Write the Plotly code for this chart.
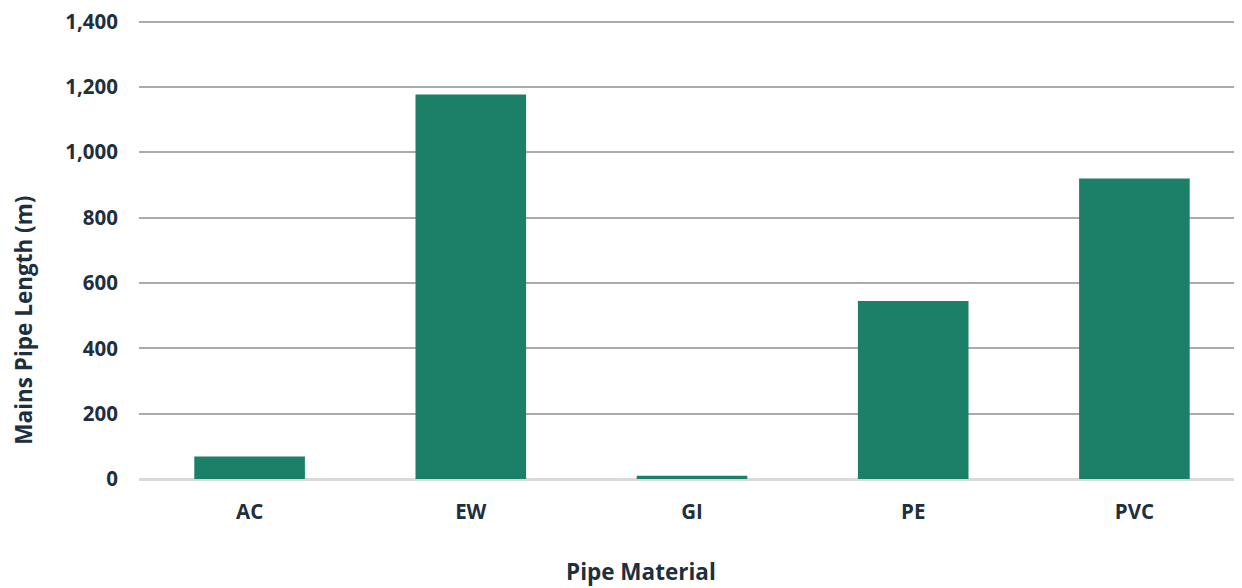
import plotly.graph_objects as go

categories = ["AC", "EW", "GI", "PE", "PVC"]
lengths = [69, 1177, 10, 545, 920]
y_ticks = [0, 200, 400, 600, 800, 1000, 1200, 1400]

font_color = "#1E2F3D"
fig = go.Figure(go.Bar(
    x=categories, y=lengths,
    marker=dict(color="#1C8068", line=dict(width=0)),
    width=0.5,
))
# page body has an 8px margin, so margins are compensated
fig.update_layout(
    width=1242, height=588,
    margin=dict(l=131, r=5, t=12, b=117),
    paper_bgcolor="white", plot_bgcolor="white",
    font=dict(family="Open Sans", color=font_color, size=16),
    showlegend=False,
    xaxis=dict(
        automargin=False,
        tickfont=dict(size=20.5, color=font_color),
        tickprefix="<b>", ticksuffix="</b>",
        showline=False, showgrid=False, ticks="outside", ticklen=14, tickcolor="rgba(0,0,0,0)",
    ),
    yaxis=dict(
        automargin=False,
        range=[0, 1405], tickvals=y_ticks,
        ticktext=[f"<b>{v:,}</b>" for v in y_ticks],
        tickfont=dict(size=20.5, color=font_color),
        ticklabeloverflow="allow",
        showgrid=True, gridcolor="#A9ABAE", gridwidth=2,
        zeroline=True, zerolinecolor="#D9D9D9", zerolinewidth=3,
        ticks="outside", ticklen=16, tickcolor="rgba(0,0,0,0)",
    ),
    annotations=[
        dict(text="<b>Mains Pipe Length (m)</b>", textangle=-90,
             xref="paper", yref="paper", x=0, y=0.345, xanchor="center", yanchor="middle",
             xshift=-115, showarrow=False, font=dict(size=22.5, color=font_color)),
        dict(text="<b>Pipe Material</b>",
             xref="paper", yref="paper", x=0.454, y=0, xanchor="center", yanchor="middle",
             yshift=-92, showarrow=False, font=dict(size=22.5, color=font_color)),
    ],
)
fig.write_html("out.html")
